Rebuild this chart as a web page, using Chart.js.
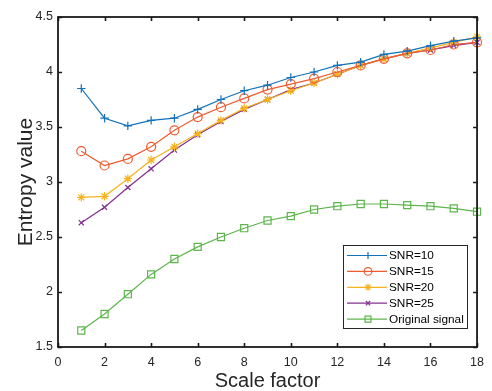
<!DOCTYPE html>
<html>
<head>
<meta charset="utf-8">
<script src="https://cdn.jsdelivr.net/npm/chart.js@4/dist/chart.umd.min.js"></script>
<style>
  html, body { margin: 0; padding: 0; background: #ffffff; }
  #wrap { width: 492px; height: 391px; position: relative; }
</style>
</head>
<body>
<div id="wrap"><canvas id="c"></canvas></div>
<script>
// Scale factors 1..18
const scaleFactors = [1, 2, 3, 4, 5, 6, 7, 8, 9, 10, 11, 12, 13, 14, 15, 16, 17, 18];

// Entropy values per noise level
const snr10 = [3.85, 3.58, 3.51, 3.56, 3.58, 3.66, 3.75, 3.83, 3.88, 3.95, 4.00, 4.06, 4.09, 4.16, 4.19, 4.24, 4.28, 4.31];
const snr15 = [3.28, 3.15, 3.21, 3.32, 3.47, 3.59, 3.68, 3.76, 3.84, 3.89, 3.94, 4.00, 4.06, 4.12, 4.17, 4.20, 4.25, 4.27];
const snr20 = [2.86, 2.87, 3.03, 3.20, 3.32, 3.44, 3.56, 3.67, 3.75, 3.83, 3.90, 3.98, 4.06, 4.12, 4.17, 4.22, 4.27, 4.32];
const snr25 = [2.63, 2.77, 2.95, 3.12, 3.29, 3.43, 3.55, 3.66, 3.75, 3.84, 3.90, 3.98, 4.06, 4.12, 4.17, 4.20, 4.24, 4.27];
const original = [1.65, 1.80, 1.98, 2.16, 2.30, 2.41, 2.50, 2.58, 2.65, 2.69, 2.75, 2.78, 2.80, 2.80, 2.79, 2.78, 2.76, 2.73];

const seriesLabels = ['SNR=10', 'SNR=15', 'SNR=20', 'SNR=25', 'Original signal'];
const xTicks = [0, 2, 4, 6, 8, 10, 12, 14, 16, 18];
const yTicks = [1.5, 2, 2.5, 3, 3.5, 4, 4.5];

const colors = ['#1272BA', '#EE5B2E', '#F7B21F', '#82308E', '#5DB64B'];
const styles = ['cross', 'circle', 'star', 'crossRot', 'rect'];
const radii = [4.2, 4.5, 4.2, 3.6, 5];

function toPoints(vals) {
  return vals.map((v, i) => ({ x: scaleFactors[i], y: v }));
}

const seriesValues = [snr10, snr15, snr20, snr25, original];
const datasets = seriesValues.map((vals, i) => ({
  label: seriesLabels[i],
  data: toPoints(vals),
  borderColor: colors[i],
  backgroundColor: 'rgba(0,0,0,0)',
  pointBorderColor: colors[i],
  pointBackgroundColor: 'rgba(0,0,0,0)',
  pointStyle: styles[i],
  pointRadius: radii[i],
  pointBorderWidth: 1.2,
  borderWidth: 1.2,
  tension: 0,
  clip: false
}));

// Box around the plot with inward tick marks on every side
const boxTicks = {
  id: 'boxTicks',
  afterDatasetsDraw(chart) {
    const { ctx, chartArea: a, scales } = chart;
    const len = 4;
    ctx.save();
    ctx.strokeStyle = '#1a1a1a';
    ctx.lineWidth = 1.6;
    ctx.beginPath();
    scales.x.ticks.forEach(t => {
      const px = Math.round(scales.x.getPixelForValue(t.value)) + 0.5;
      ctx.moveTo(px, a.bottom); ctx.lineTo(px, a.bottom - len);
      ctx.moveTo(px, a.top); ctx.lineTo(px, a.top + len);
    });
    scales.y.ticks.forEach(t => {
      const py = Math.round(scales.y.getPixelForValue(t.value)) + 0.5;
      ctx.moveTo(a.left, py); ctx.lineTo(a.left + len, py);
      ctx.moveTo(a.right, py); ctx.lineTo(a.right - len, py);
    });
    ctx.stroke();
    ctx.lineWidth = 1.8;
    ctx.strokeRect(a.left, a.top, a.right - a.left, a.bottom - a.top);
    ctx.restore();
  }
};

// Legend box in the lower right of the plot, each row shows line + marker
const boxLegend = {
  id: 'boxLegend',
  afterDraw(chart) {
    const { ctx } = chart;
    const x0 = 343, y0 = 245, w = 124, h = 83;
    ctx.save();
    ctx.fillStyle = '#ffffff';
    ctx.fillRect(x0, y0, w, h);
    ctx.strokeStyle = '#262626';
    ctx.lineWidth = 1;
    ctx.strokeRect(x0 + 0.5, y0 + 0.5, w, h);
    chart.data.datasets.forEach((ds, i) => {
      const y = y0 + 10.5 + i * 15.9;
      ctx.strokeStyle = ds.borderColor;
      ctx.lineWidth = 1.2;
      ctx.beginPath();
      ctx.moveTo(x0 + 4, y);
      ctx.lineTo(x0 + 44, y);
      ctx.stroke();
      ctx.fillStyle = 'rgba(0,0,0,0)';
      ctx.strokeStyle = ds.borderColor;
      Chart.helpers.drawPoint(ctx, {
        pointStyle: ds.pointStyle,
        radius: ds.pointRadius * 0.85,
        borderWidth: 1.2,
        rotation: 0
      }, x0 + 25, y);
      ctx.fillStyle = '#000000';
      ctx.font = '11.8px "Liberation Sans", Arial, sans-serif';
      ctx.textBaseline = 'middle';
      ctx.textAlign = 'left';
      ctx.fillText(ds.label, x0 + 46, y + 0.5);
    });
    ctx.restore();
  }
};

const tickFont = { family: '"Liberation Sans", Arial, sans-serif', size: 12.5 };
const titleFont = { family: '"Liberation Sans", Arial, sans-serif', size: 20, lineHeight: 1 };

new Chart(document.getElementById('c'), {
  type: 'line',
  data: { datasets },
  options: {
    responsive: true,
    maintainAspectRatio: false,
    animation: false,
    devicePixelRatio: 1,
    layout: { padding: { top: 17, right: 14, left: 0, bottom: 0 } },
    plugins: {
      legend: { display: false },
      tooltip: { enabled: false }
    },
    scales: {
      x: {
        type: 'linear',
        min: 0, max: 18,
        afterBuildTicks(scale) { scale.ticks = xTicks.map(v => ({ value: v })); },
        afterFit(scale) { scale.height = 44; },
        grid: { display: false, drawTicks: false },
        border: { display: false },
        ticks: { font: tickFont, color: '#262626', padding: 8, maxRotation: 0 },
        title: { display: true, text: 'Scale factor', font: titleFont, color: '#262626', padding: { top: 0, bottom: 0 } }
      },
      y: {
        type: 'linear',
        min: 1.5, max: 4.5,
        afterBuildTicks(scale) { scale.ticks = yTicks.map(v => ({ value: v })); },
        afterFit(scale) { scale.width = 58; },
        grid: { display: false, drawTicks: false },
        border: { display: false },
        ticks: { font: tickFont, color: '#262626', padding: 5, callback: v => String(v) },
        title: { display: true, text: 'Entropy value', font: { family: titleFont.family, size: 21, lineHeight: 1 }, color: '#262626', padding: { top: 16, bottom: 0 } }
      }
    }
  },
  plugins: [boxTicks, boxLegend]
});
</script>
</body>
</html>
